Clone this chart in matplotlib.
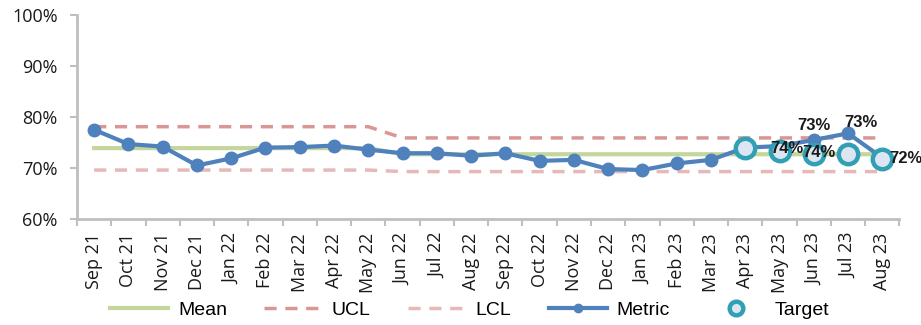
import numpy as np
import matplotlib.pyplot as plt
from matplotlib.ticker import FixedLocator, PercentFormatter

# mois
months = ['Sep 21', 'Oct 21', 'Nov 21', 'Dec 21', 'Jan 22', 'Feb 22', 'Mar 22', 'Apr 22',
          'May 22', 'Jun 22', 'Jul 22', 'Aug 22', 'Sep 22', 'Oct 22', 'Nov 22', 'Dec 22',
          'Jan 23', 'Feb 23', 'Mar 23', 'Apr 23', 'May 23', 'Jun 23', 'Jul 23', 'Aug 23']

metric = [77.5, 74.7, 74.2, 70.5, 71.9, 74.0, 74.1, 74.4, 73.6, 72.9, 72.9, 72.4,
          72.9, 71.4, 71.6, 69.8, 69.6, 70.9, 71.6, 74.0, 74.3, 75.5, 76.8, 72.0]
mean = [73.9] * 9 + [72.7] * 15
ucl = [78.1] * 9 + [75.9] * 15
lcl = [69.6] * 9 + [69.3] * 15
target = [np.nan] * 19 + [74.0, 73.3, 72.7, 72.7, 71.8]

# étiquettes de données (index du mois, texte)
label_idx = [20, 21, 21, 22, 23]
label_txt = ['74%', '74%', '73%', '73%', '72%']

x = np.arange(len(months))

fig = plt.figure(figsize=(9.21, 3.25), dpi=100)
ax = fig.add_axes([0.0836, 0.326, 0.893, 0.628])

ax.plot(x, mean, color='#c3d69b', lw=3, label='Mean', zorder=2)
ax.plot(x, ucl, color='#d99694', lw=2.5, ls=(0, (3.5, 2.5)), label='UCL', zorder=2)
ax.plot(x, lcl, color='#e6b9b8', lw=2.5, ls=(0, (3.5, 2.5)), label='LCL', zorder=2)
ax.plot(x, metric, color='#4f81bd', lw=3, marker='o', ms=9, label='Metric', zorder=3)
ax.plot(x, target, ls='none', marker='o', ms=14, mfc='#dce6f2', mec='#31a0b4', mew=3.2,
        label='Target', zorder=4)

# position des étiquettes (décalage en points)
offsets = [(5, 2), (4, 1), (0, 10.5), (9, 7.5), (17, 0.5)]
ref_y = [target[20], target[21], metric[21], metric[22], target[23]]
for i, t, (dx, dy), yv in zip(label_idx, label_txt, offsets, ref_y):
    ax.annotate(t, (i, yv), xytext=(dx, dy), textcoords='offset points',
                ha='center', va='center', fontsize=12, fontweight='bold',
                family='Liberation Sans', color='#1a1a1a', zorder=5)

ax.set_xlim(-0.5, len(months) - 0.5)
ax.set_ylim(60, 100)
ax.yaxis.set_major_locator(FixedLocator([60, 70, 80, 90, 100]))
ax.yaxis.set_major_formatter(PercentFormatter(decimals=0))
ax.set_xticks(x)
ax.set_xticklabels(months, rotation=90, family='Open Sans')
for lab in ax.get_yticklabels():
    lab.set_family('Open Sans')
ax.xaxis.set_minor_locator(FixedLocator(np.arange(-0.5, len(months), 1)))
ax.tick_params(axis='x', which='major', length=0, pad=10, labelsize=13, labelcolor='#1a1a1a')
ax.tick_params(axis='x', which='minor', length=5, width=1.5, color='#bfbfbf')
ax.tick_params(axis='y', length=5, width=1.5, color='#bfbfbf', labelsize=13,
               labelcolor='#1a1a1a', pad=9)

for s in ['top', 'right']:
    ax.spines[s].set_visible(False)
for s in ['left', 'bottom']:
    ax.spines[s].set_color('#bfbfbf')
    ax.spines[s].set_linewidth(2)

leg = fig.legend(loc='center', bbox_to_anchor=(0.51, 0.045), ncol=5, frameon=False,
                 prop={'family': 'Liberation Sans', 'size': 14}, handlelength=3.0,
                 columnspacing=1.9, handletextpad=0.5, markerscale=0.7)
for h in leg.legend_handles:
    if h.get_label() == 'Metric':
        h.set_markersize(6)

fig.savefig('out.png', dpi=100)
